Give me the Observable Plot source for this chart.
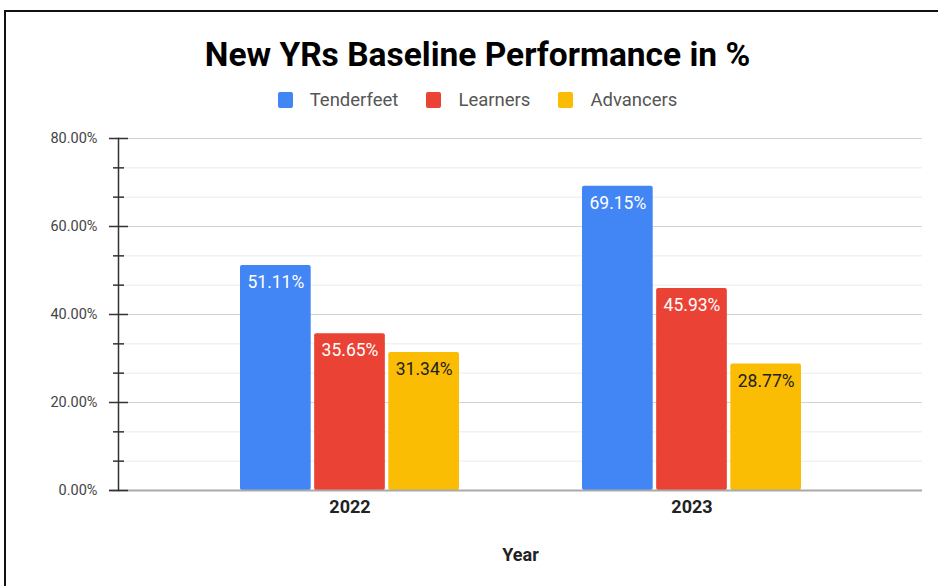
<!DOCTYPE html>
<html><head><meta charset="utf-8">
<script src="https://cdn.jsdelivr.net/npm/d3@7"></script>
<script src="https://cdn.jsdelivr.net/npm/@observablehq/plot@0.6"></script>
<style>
body{margin:0;background:#fff;font-family:Roboto,"Liberation Sans",sans-serif;}
#wrap{position:relative;width:938px;height:586px;overflow:hidden;background:#fff;}
#border{position:absolute;left:4px;top:10px;right:-10px;bottom:-10px;border-top:2px solid #111;border-left:2px solid #111;pointer-events:none;}
#title{position:absolute;top:35px;left:17px;right:0;text-align:center;font-weight:bold;font-size:33.5px;color:#000;line-height:40px;}
#legend{position:absolute;top:90px;left:17px;right:0;display:flex;justify-content:center;align-items:center;font-size:18.5px;color:#555;line-height:20px;}
#legend .item{display:flex;align-items:center;margin:0 14px;}
#legend .sw{width:15px;height:16px;border-radius:2px;margin-right:17px;}
#chart{position:absolute;left:0;top:0;}
</style>
</head><body>
<div id="wrap">
  <div id="chart"></div>
  <div id="title"></div>
  <div id="legend"></div>
  <div id="border"></div>
</div>
<script>
const title = "New YRs Baseline Performance in %";
const years = ["2022", "2023"];
const seriesNames = ["Tenderfeet", "Learners", "Advancers"];
const tenderfeet = [51.11, 69.15];
const learners = [35.65, 45.93];
const advancers = [31.34, 28.77];
const colors = ["#4285F4", "#EA4335", "#FBBC04"];
const majorTicks = [0, 20, 40, 60, 80];
const minorTicks = [6.67, 13.33, 26.67, 33.33, 46.67, 53.33, 66.67, 73.33];
const xLabel = "Year";

document.getElementById("title").textContent = title;
const legend = document.getElementById("legend");
seriesNames.forEach((s, i) => {
  const it = document.createElement("div"); it.className = "item";
  const sw = document.createElement("span"); sw.className = "sw"; sw.style.background = colors[i];
  const tx = document.createElement("span"); tx.textContent = s;
  it.appendChild(sw); it.appendChild(tx); legend.appendChild(it);
});

const values = [tenderfeet, learners, advancers];
const rows = [];
seriesNames.forEach((s, i) => years.forEach((y, j) => rows.push({series: s, idx: i, year: y, value: values[i][j]})));

const W = 938, H = 586, mL = 118, mR = 16, mT = 138, mB = 96;
const pIn = 0.36, pOut = 0.355;
const step = (W - mL - mR) / (years.length - pIn + 2 * pOut);
const band = step * (1 - pIn);
const gap = 3.5;
const bw = (band - 2 * gap) / 3;
const fmt = d => d.toFixed(2) + "%";

const marks = [
  Plot.ruleY(minorTicks, {stroke: "#ebebeb", strokeWidth: 1}),
  Plot.ruleY(majorTicks.filter(d => d > 0), {stroke: "#d3d3d3", strokeWidth: 1})
];
seriesNames.forEach((s, i) => {
  const data = rows.filter(r => r.idx === i);
  marks.push(Plot.barY(data, {x: "year", y: "value", fill: colors[i], rx: 2,
    insetLeft: i * (bw + gap), insetRight: (2 - i) * (bw + gap)}));
  marks.push(Plot.text(data, {x: "year", y: "value", text: d => fmt(d.value),
    dx: (i - 1) * (bw + gap), dy: 17, fill: i < 2 ? "#ffffff" : "#222222", fontSize: 17.5}));
});
marks.push(
  Plot.ruleY([0], {stroke: "#a9a9a9", strokeWidth: 2, insetLeft: -9}),
  Plot.frame({anchor: "left", stroke: "#333", strokeWidth: 1.5}),
  Plot.axisY(majorTicks, {tickSize: 19, dx: 10, tickFormat: () => "", stroke: "#333", strokeWidth: 1.5, label: null}),
  Plot.axisY(minorTicks, {tickSize: 11, dx: 6, tickFormat: () => "", stroke: "#333", strokeWidth: 1.5, label: null}),
  Plot.axisY(majorTicks, {tickSize: 0, tickPadding: 21, tickFormat: fmt, fontSize: 14.5, fill: "#444", label: null}),
  Plot.axisX({tickSize: 0, tickPadding: 10, fontSize: 18, fontWeight: "bold", fill: "#222", label: null}),
  Plot.text([xLabel], {frameAnchor: "bottom", dy: 70, fontSize: 18, fontWeight: "bold", fill: "#222"})
);

const chart = Plot.plot({
  width: W, height: H,
  marginLeft: mL, marginRight: mR, marginTop: mT, marginBottom: mB,
  style: {fontFamily: "Roboto, 'Liberation Sans', sans-serif", background: "transparent"},
  x: {domain: years, paddingInner: pIn, paddingOuter: pOut, align: 0.5, axis: null},
  y: {domain: [0, 80], axis: null},
  marks
});
document.getElementById("chart").appendChild(chart);
</script>
</body></html>
